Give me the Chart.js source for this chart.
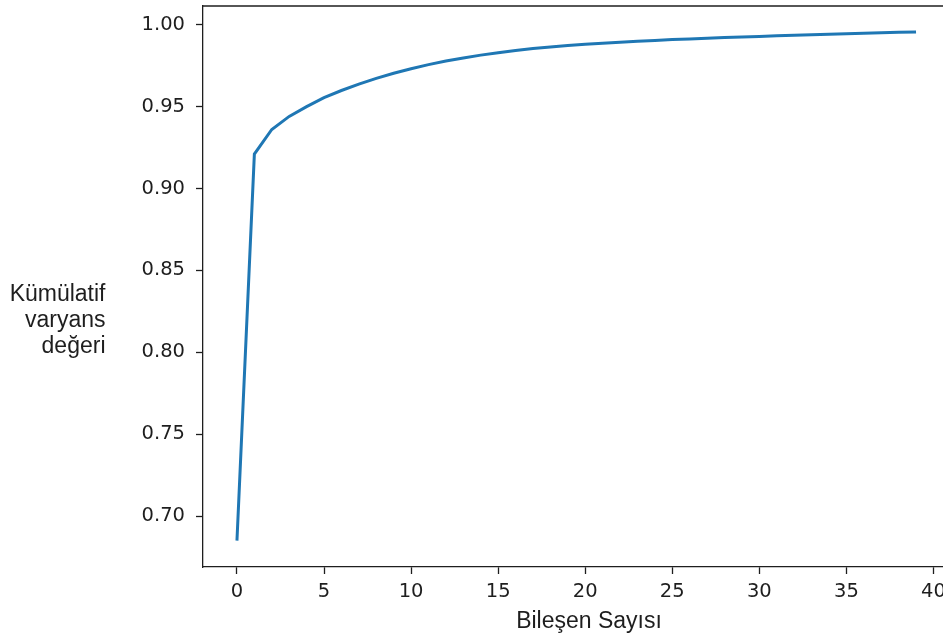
<!DOCTYPE html>
<html>
<head>
<meta charset="utf-8">
<script src="https://cdn.jsdelivr.net/npm/chart.js@4"></script>
<style>
  html, body { margin: 0; padding: 0; background: #fff; overflow: hidden; }
  #wrap { width: 960px; height: 639px; }
</style>
</head>
<body>
<div id="wrap"><canvas id="pcaChart"></canvas></div>
<script>
// Bileşen sayısı (0..39) ve kümülatif açıklanan varyans
const components = [0, 1, 2, 3, 4, 5, 6, 7, 8, 9, 10, 11, 12, 13, 14, 15, 16, 17, 18, 19,
                    20, 21, 22, 23, 24, 25, 26, 27, 28, 29, 30, 31, 32, 33, 34, 35, 36, 37, 38, 39];
const cumVariance = [0.685, 0.921, 0.936, 0.944, 0.950, 0.9555, 0.9598, 0.9637, 0.9672, 0.9703,
                     0.9731, 0.9756, 0.9778, 0.9797, 0.9814, 0.9829, 0.9842, 0.9854, 0.9864, 0.9873,
                     0.9880, 0.9887, 0.9893, 0.9899, 0.9904, 0.9909, 0.9913, 0.9917, 0.9921, 0.9925,
                     0.9928, 0.9932, 0.9935, 0.9938, 0.9941, 0.9944, 0.9947, 0.9950, 0.9953, 0.9956];
const xTicks = [0, 5, 10, 15, 20, 25, 30, 35, 40];
const yTicks = [0.70, 0.75, 0.80, 0.85, 0.90, 0.95, 1.00];
const xTitle = 'Bileşen Sayısı';
const yTitle = ['Kümülatif', 'varyans', 'değeri'];

const inkColor = '#1e1e1e';
const tickFont = { family: 'DejaVu Sans', size: 19.5 };

// axis titles + top spine
const extras = {
    id: 'extras',
    afterDraw(chart) {
        const ctx = chart.ctx;
        const area = chart.chartArea;
        ctx.save();
        ctx.strokeStyle = inkColor;
        ctx.lineWidth = 1.3;
        ctx.beginPath();
        ctx.moveTo(area.left, area.top);
        ctx.lineTo(area.right, area.top);
        ctx.stroke();

        ctx.fillStyle = inkColor;
        ctx.font = '23px "Liberation Sans", Arial, sans-serif';
        ctx.textBaseline = 'alphabetic';
        ctx.textAlign = 'center';
        ctx.fillText(xTitle, 589, 628);

        ctx.textAlign = 'right';
        yTitle.forEach((line, i) => {
            ctx.fillText(line, 105.5, 300.5 + i * 26.3);
        });
        ctx.restore();
    }
};

const ctx = document.getElementById('pcaChart').getContext('2d');
const pcaChart = new Chart(ctx, {
    type: 'line',
    data: {
        labels: components,
        datasets: [{
            label: 'Kümülatif varyans',
            data: components.map((c, i) => ({ x: c, y: cumVariance[i] })),
            borderColor: '#1f77b4',
            borderWidth: 3,
            pointRadius: 0,
            fill: false,
            tension: 0
        }]
    },
    options: {
        responsive: true,
        maintainAspectRatio: false,
        animation: false,
        layout: { padding: { left: 0, top: 6, right: 10, bottom: 0 } },
        plugins: {
            legend: { display: false },
            tooltip: { enabled: false }
        },
        scales: {
            x: {
                type: 'linear',
                min: -1.95,
                max: 40.95,
                afterBuildTicks: axis => { axis.ticks = xTicks.map(v => ({ value: v })); },
                afterFit: axis => {
                    axis.height = 72;
                    axis.paddingLeft = 0;
                    axis.paddingRight = 0;
                },
                ticks: {
                    color: inkColor,
                    font: tickFont,
                    padding: 6,
                    maxRotation: 0,
                    autoSkip: false,
                    callback: v => String(v)
                },
                grid: {
                    drawOnChartArea: false,
                    drawTicks: true,
                    tickLength: 7,
                    tickColor: inkColor,
                    tickWidth: 1.3
                },
                border: { display: true, color: inkColor, width: 1.3 }
            },
            y: {
                min: 0.6689,
                max: 1.0114,
                afterBuildTicks: axis => { axis.ticks = yTicks.map(v => ({ value: v })); },
                afterFit: axis => {
                    axis.width = 203;
                    axis.paddingTop = 0;
                    axis.paddingBottom = 0;
                },
                ticks: {
                    color: inkColor,
                    font: tickFont,
                    padding: 11,
                    autoSkip: false,
                    callback: v => v.toFixed(2)
                },
                grid: {
                    drawOnChartArea: false,
                    drawTicks: true,
                    tickLength: 7,
                    tickColor: inkColor,
                    tickWidth: 1.3
                },
                border: { display: true, color: inkColor, width: 1.3 }
            }
        }
    },
    plugins: [extras]
});
</script>
</body>
</html>
